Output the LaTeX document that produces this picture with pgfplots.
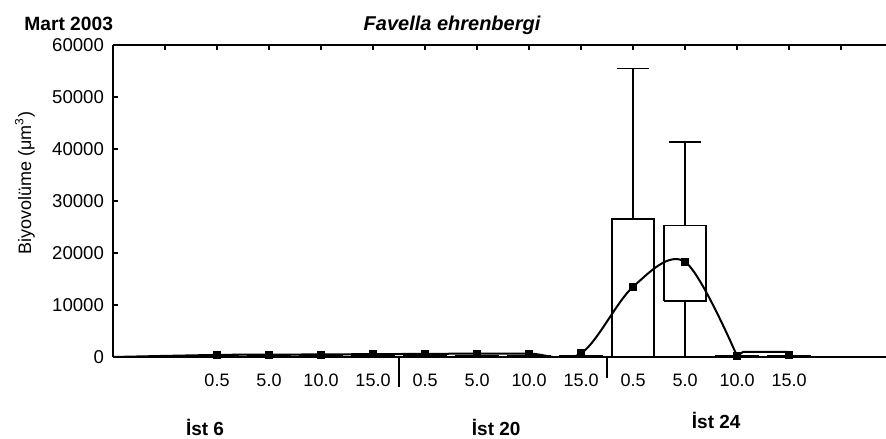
\documentclass[border=0pt]{standalone}
\usepackage{fontspec}
\setmainfont{Liberation Sans}
\usepackage{pgfplots}
\pgfplotsset{compat=1.18}
\begin{document}
\begin{tikzpicture}
\begin{axis}[
  at={(0,0)}, anchor=south west,
  scale only axis, width=386.5pt, height=156pt,
  xmin=0, xmax=14.865, ymin=0, ymax=60000,
  axis x line=box, axis y line*=left,
  axis line style={-, line width=1pt},
  tick align=inside,
  major tick length=2.5pt,
  tick style={black, line width=0.8pt},
  xtick={0,...,14},
  xticklabels={,,0.5,5.0,10.0,15.0,0.5,5.0,10.0,15.0,0.5,5.0,10.0,15.0,},
  xtick pos=upper, xticklabel pos=lower,
  xticklabel style={font=\fontsize{9}{10}\selectfont, anchor=base, yshift=-14.5pt},
  ytick={0,10000,...,60000},
  ytick pos=left,
  yticklabel style={font=\fontsize{9.3}{10}\selectfont, xshift=-1pt},
  scaled y ticks=false,
  /pgf/number format/1000 sep={},
  /pgf/number format/assume math mode=true,
  unbounded coords=jump,
  after end axis/.code={
    \draw[line width=0.6pt] (axis cs:5.5,0) -- ++(0,-15pt);
    \draw[line width=0.6pt] (axis cs:9.5,0) -- ++(0,-10.5pt);
    \node[anchor=base, font=\bfseries\fontsize{9.5}{11}\selectfont, yshift=-39pt] at (axis cs:1.77,0) {İst 6};
    \node[anchor=base, font=\bfseries\fontsize{9.5}{11}\selectfont, yshift=-39pt] at (axis cs:7.37,0) {İst 20};
    \node[anchor=base, font=\bfseries\fontsize{9.5}{11}\selectfont, yshift=-35.5pt] at (axis cs:11.6,0) {İst 24};
    \node[anchor=base west, inner sep=0pt, font=\bfseries\fontsize{9.6}{11}\selectfont] at ([xshift=-44.5pt, yshift=7.5pt]rel axis cs:0,1) {Mart 2003};
    \node[anchor=base, inner sep=0pt, font=\bfseries\itshape\fontsize{10}{11}\selectfont] at ([yshift=7.5pt]rel axis cs:0.4386,1) {Favella ehrenbergi};
    \node[rotate=90, anchor=center, inner sep=0pt, font=\fontsize{9}{10}\selectfont] at ([xshift=-44pt]rel axis cs:0,0.558) {Biyovolüme (μm\textsuperscript{3})};
  },
]
% box İst 24 0.5
\addplot[black, line width=0.75pt, mark=none] coordinates {
(9.6,0) (9.6,26500) (10.4,26500) (10.4,0) (9.6,0) (10,nan)
(10,26500) (10,55500) (10,nan)
(9.7,55500) (10.3,55500)
};
% box İst 24 5.0
\addplot[black, line width=0.75pt, mark=none] coordinates {
(10.6,10800) (10.6,25300) (11.4,25300) (11.4,10800) (10.6,10800) (11,nan)
(11,25300) (11,41300) (11,nan)
(10.7,41300) (11.3,41300) (11,nan)
(11,0) (11,10800)
};
% small boxes near zero
\addplot[black, line width=0.75pt, mark=none] coordinates {
(1.6,0) (1.6,150) (2.4,150) (2.4,0) (2,nan) (1.7,300) (2.3,300) (2,nan)
(2.6,0) (2.6,150) (3.4,150) (3.4,0) (3,nan) (2.7,300) (3.3,300) (3,nan)
(3.6,0) (3.6,150) (4.4,150) (4.4,0) (4,nan) (3.7,300) (4.3,300) (4,nan)
(4.6,0) (4.6,150) (5.4,150) (5.4,0) (5,nan) (4.7,300) (5.3,300) (5,nan)
(5.6,0) (5.6,150) (6.4,150) (6.4,0) (6,nan) (5.7,300) (6.3,300) (6,nan)
(6.6,0) (6.6,150) (7.4,150) (7.4,0) (7,nan) (6.7,300) (7.3,300) (7,nan)
(7.6,0) (7.6,150) (8.4,150) (8.4,0) (8,nan) (7.7,300) (8.3,300) (8,nan)
(8.6,0) (8.6,150) (9.4,150) (9.4,0) (9,nan) (8.7,300) (9.3,300) (9,nan)
(11.6,0) (11.6,150) (12.4,150) (12.4,0) (12,nan) (11.7,300) (12.3,300) (12,nan)
(12.6,0) (12.6,150) (13.4,150) (13.4,0) (13,nan) (12.7,300) (13.3,300)
};
% smooth mean curve
\addplot[black, line width=1pt, smooth, tension=0.55, mark=none] coordinates {
(0,0) (2,400) (3,450) (4,500) (5,550) (6,600) (7,650) (8,650) (9,700) (10,13500) (11,18300) (12,200)
};
\addplot[black, line width=1pt, sharp plot, mark=none] coordinates {
(12,200) (12.12,1000) (12.95,1000) (13,400)
};
% means
\addplot[only marks, mark=square*, mark size=1.75pt, black] coordinates {
(2,400) (3,450) (4,500) (5,550) (6,600) (7,650) (8,650) (9,700) (10,13500) (11,18300) (12,200) (13,400)
};
\end{axis}
\pgfresetboundingbox
\path (-56.5pt,-40.5pt) rectangle (386.5pt,178.5pt);
\end{tikzpicture}
\end{document}
